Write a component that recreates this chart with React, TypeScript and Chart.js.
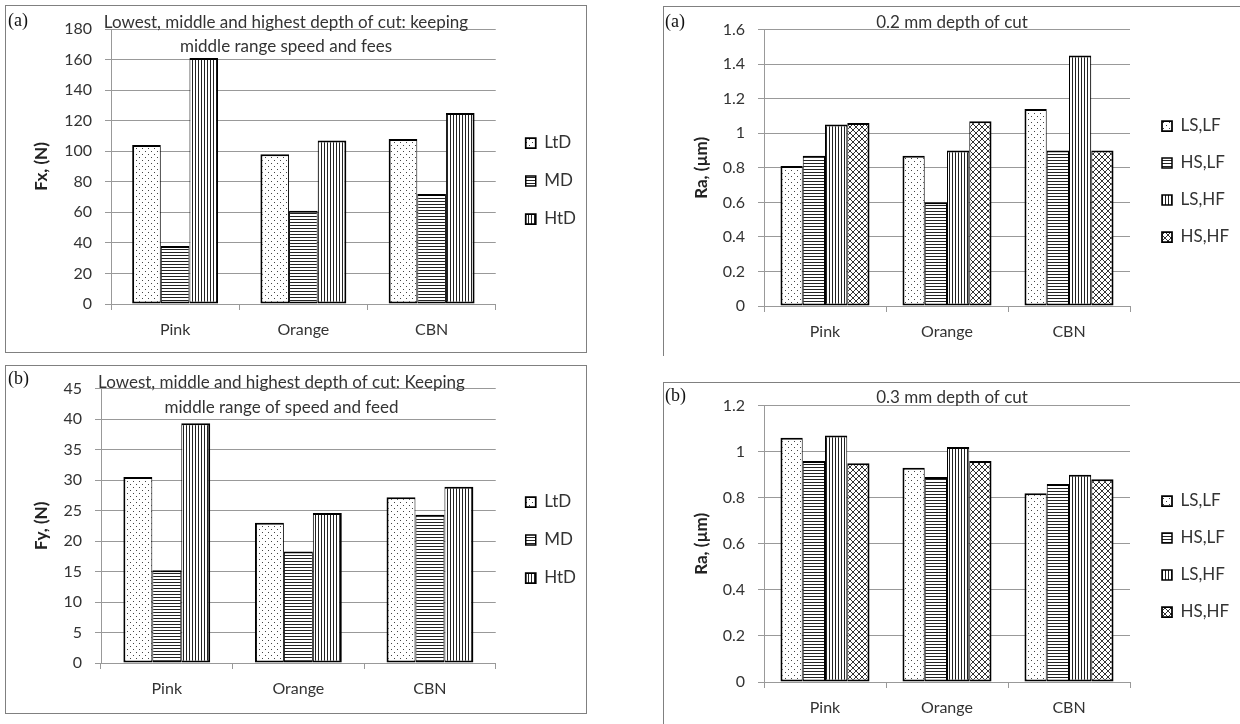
import React, { useEffect, useRef } from 'react';
import { Chart, registerables } from 'chart.js';

Chart.register(...registerables);

const FONT = 'Lato, "Open Sans", sans-serif';
const TEXT = '#333333';
const GRID = '#999999';
const LEGEND_FS = 17;
const TITLE_FS = 17;

// ---------- data ----------
const categories = ['Pink', 'Orange', 'CBN'];

const depthSeries = ['LtD', 'MD', 'HtD'];
const fxLtD = [104, 98, 108];
const fxMD = [38, 61, 72];
const fxHtD = [161, 107, 125];

const fyLtD = [30.5, 23.0, 27.2];
const fyMD = [15.2, 18.3, 24.3];
const fyHtD = [39.3, 24.6, 28.9];

const condSeries = ['LS,LF', 'HS,LF', 'LS,HF', 'HS,HF'];
const ra02LSLF = [0.81, 0.87, 1.14];
const ra02HSLF = [0.87, 0.6, 0.9];
const ra02LSHF = [1.05, 0.9, 1.45];
const ra02HSHF = [1.06, 1.07, 0.9];

const ra03LSLF = [1.06, 0.93, 0.82];
const ra03HSLF = [0.96, 0.89, 0.86];
const ra03LSHF = [1.07, 1.02, 0.9];
const ra03HSHF = [0.95, 0.96, 0.88];

const fxTitle = ['Lowest, middle and highest depth of cut: keeping', 'middle range speed and fees'];
const fyTitle = ['Lowest, middle and highest depth of cut: Keeping', 'middle range of speed and feed'];
const ra02Title = ['0.2 mm depth of cut'];
const ra03Title = ['0.3 mm depth of cut'];

const fxAxis = { max: 180, step: 20, title: 'Fx, (N)' };
const fyAxis = { max: 45, step: 5, title: 'Fy, (N)' };
const ra02Axis = { max: 1.6, step: 0.2, title: 'Ra, (\u00b5m)' };
const ra03Axis = { max: 1.2, step: 0.2, title: 'Ra, (\u00b5m)' };

const depthPatterns = ['dots', 'hlines', 'vlines'];
const condPatterns = ['dots', 'hlines', 'vlines', 'cross'];

// ---------- helpers ----------
function makePattern(kind: string): CanvasPattern | string {
  const c = document.createElement('canvas');
  const ctx = c.getContext('2d');
  if (!ctx) return '#fff';
  if (kind === 'dots') {
    c.width = 6; c.height = 6;
    ctx.fillStyle = '#fff'; ctx.fillRect(0, 0, 6, 6);
    ctx.fillStyle = '#444';
    ctx.fillRect(1, 1, 1, 1); ctx.fillRect(4, 4, 1, 1);
  } else if (kind === 'hlines') {
    c.width = 4; c.height = 3;
    ctx.fillStyle = '#fff'; ctx.fillRect(0, 0, 4, 3);
    ctx.fillStyle = '#222'; ctx.fillRect(0, 0, 4, 1);
  } else if (kind === 'vlines') {
    c.width = 3; c.height = 4;
    ctx.fillStyle = '#fff'; ctx.fillRect(0, 0, 3, 4);
    ctx.fillStyle = '#222'; ctx.fillRect(0, 0, 1, 4);
  } else {
    c.width = 6; c.height = 6;
    ctx.fillStyle = '#fff'; ctx.fillRect(0, 0, 6, 6);
    ctx.fillStyle = '#333';
    for (let i = 0; i < 6; i++) { ctx.fillRect(i, i, 1, 1); ctx.fillRect(5 - i, i, 1, 1); }
  }
  return ctx.createPattern(c, 'repeat') || '#fff';
}

const overlayTitle = {
  id: 'overlayTitle',
  afterDraw(chart: any, _args: any, opts: any) {
    if (!opts || !opts.lines) return;
    const ctx = chart.ctx;
    ctx.save();
    ctx.font = `${opts.size}px ${FONT}`;
    ctx.fillStyle = TEXT;
    ctx.textAlign = 'center';
    ctx.textBaseline = 'middle';
    opts.lines.forEach((l: string, i: number) => ctx.fillText(l, opts.x, opts.y + i * opts.dy));
    ctx.restore();
  },
};

type Geo = {
  w: number; h: number; left: number; right: number; top: number; bottom: number;
  legendX: number; legendGap: number; legendFirst: number; yTitleX: number;
  titleX: number; titleY: number; titleDy: number; catPct: number;
};

function buildConfig(series: string[], data: number[][], patterns: string[], axis: any, titleLines: string[], g: Geo) {
  const n = series.length;
  const pad = g.legendGap - LEGEND_FS;
  const spacer = g.legendX - g.right - pad;
  const legendW = g.w - g.right - spacer;
  const titleH = g.legendFirst - g.top - pad - LEGEND_FS / 2;
  return {
    type: 'bar',
    data: {
      labels: categories,
      datasets: series.map((s, i) => ({
        label: s,
        data: data[i],
        xAxisID: 'x',
        yAxisID: 'y',
        backgroundColor: makePattern(patterns[i]),
        borderColor: '#000',
        borderWidth: { top: 2, bottom: 2, left: i === 0 ? 2 : 1, right: i === n - 1 ? 2 : 1 },
        borderSkipped: false,
        inflateAmount: 0,
        categoryPercentage: g.catPct,
        barPercentage: 1,
      })),
    },
    options: {
      responsive: false,
      animation: false,
      devicePixelRatio: 1,
      events: [],
      layout: { padding: { top: g.top, left: 0, right: 0, bottom: 0 } },
      scales: {
        x: {
          type: 'category',
          offset: true,
          grid: { offset: true, drawOnChartArea: false, drawTicks: true, tickLength: 6, color: GRID },
          border: { display: true, color: GRID, width: 1 },
          ticks: { font: { family: FONT, size: 16 }, color: TEXT, padding: 10, maxRotation: 0, autoSkip: false },
          afterFit: (s: any) => { s.height = g.h - g.bottom; },
        },
        y: {
          type: 'linear',
          min: 0,
          max: axis.max,
          ticks: {
            stepSize: axis.step,
            font: { family: FONT, size: 16 },
            color: TEXT,
            padding: 13,
            callback: (v: any) => String(+(+v).toFixed(2)),
          },
          grid: { color: GRID, tickLength: 6, drawTicks: true },
          border: { display: true, color: GRID, width: 1 },
          title: {
            display: true,
            text: axis.title,
            font: { family: FONT, size: 17, weight: 'bold' },
            color: '#222',
            padding: { top: g.yTitleX - 10.2, bottom: 0 },
          },
          afterFit: (s: any) => { s.width = g.left; },
        },
        spacer: {
          type: 'linear',
          position: 'right',
          display: true,
          grid: { display: false, drawTicks: false },
          border: { display: false },
          ticks: { display: false },
          afterFit: (s: any) => { s.width = spacer; },
        },
      },
      plugins: {
        legend: {
          position: 'right',
          align: 'start',
          maxWidth: legendW,
          title: { display: true, text: ' ', font: { size: 10 }, padding: { top: titleH - 12, bottom: 0 } },
          labels: {
            boxWidth: 10,
            boxHeight: 10,
            padding: pad,
            font: { family: FONT, size: LEGEND_FS },
            color: TEXT,
          },
        },
        tooltip: { enabled: false },
        overlayTitle: { lines: titleLines, x: g.titleX, y: g.titleY, dy: g.titleDy, size: TITLE_FS },
      },
    },
    plugins: [overlayTitle],
  };
}

function ChartCanvas({ make, x, y, w, h }: { make: () => any; x: number; y: number; w: number; h: number }) {
  const ref = useRef<HTMLCanvasElement | null>(null);
  useEffect(() => {
    if (!ref.current) return;
    const chart = new Chart(ref.current, make());
    return () => chart.destroy();
  }, []);
  return (
    <canvas
      ref={ref}
      width={w}
      height={h}
      style={{ position: 'absolute', left: x, top: y, width: w, height: h }}
    />
  );
}

const panelLabel = (text: string, x: number, y: number) => (
  <span
    style={{
      position: 'absolute', left: x, top: y, fontFamily: '"Liberation Serif", "DejaVu Serif", serif',
      fontSize: 18, lineHeight: '18px', color: '#111',
    }}
  >
    {text}
  </span>
);

export default function App() {
  const tlGeo: Geo = { w: 580, h: 346, left: 105, right: 480, top: 23, bottom: 298, legendX: 510, legendGap: 38, legendFirst: 137, yTitleX: 36, titleX: 280, titleY: 16.5, titleDy: 24.5, catPct: 0.67 };
  const blGeo: Geo = { w: 580, h: 346, left: 95, right: 480, top: 22, bottom: 297, legendX: 510, legendGap: 38, legendFirst: 136, yTitleX: 36, titleX: 275.5, titleY: 17, titleDy: 24.5, catPct: 0.66 };
  const trGeo: Geo = { w: 570, h: 348, left: 100, right: 466, top: 21, bottom: 299, legendX: 498, legendGap: 37, legendFirst: 119, yTitleX: 38, titleX: 288, titleY: 15.5, titleDy: 0, catPct: 0.73 };
  const brGeo: Geo = { w: 570, h: 341, left: 100, right: 466, top: 20, bottom: 299, legendX: 498, legendGap: 37, legendFirst: 118, yTitleX: 38, titleX: 288, titleY: 14.5, titleDy: 0, catPct: 0.73 };

  return (
    <div style={{ position: 'fixed', left: 0, top: 0, width: 1240, height: 724, overflow: 'hidden', background: '#fff' }}>
      <div style={{ position: 'absolute', left: 5, top: 5, width: 582, height: 348, boxSizing: 'border-box', border: '1px solid #808080' }} />
      <div style={{ position: 'absolute', left: 5, top: 365, width: 582, height: 349, boxSizing: 'border-box', border: '1px solid #808080' }} />
      <div style={{ position: 'absolute', left: 663, top: 6, width: 700, height: 350, boxSizing: 'border-box', borderLeft: '1px solid #808080', borderTop: '1px solid #808080' }} />
      <div style={{ position: 'absolute', left: 663, top: 382, width: 700, height: 400, boxSizing: 'border-box', borderLeft: '1px solid #808080', borderTop: '1px solid #808080' }} />

      <ChartCanvas x={6} y={6} w={580} h={346} make={() => buildConfig(depthSeries, [fxLtD, fxMD, fxHtD], depthPatterns, fxAxis, fxTitle, tlGeo)} />
      <ChartCanvas x={6} y={366} w={580} h={346} make={() => buildConfig(depthSeries, [fyLtD, fyMD, fyHtD], depthPatterns, fyAxis, fyTitle, blGeo)} />
      <ChartCanvas x={664} y={7} w={570} h={348} make={() => buildConfig(condSeries, [ra02LSLF, ra02HSLF, ra02LSHF, ra02HSHF], condPatterns, ra02Axis, ra02Title, trGeo)} />
      <ChartCanvas x={664} y={383} w={570} h={341} make={() => buildConfig(condSeries, [ra03LSLF, ra03HSLF, ra03LSHF, ra03HSHF], condPatterns, ra03Axis, ra03Title, brGeo)} />

      {panelLabel('(a)', 8, 11)}
      {panelLabel('(b)', 8, 369)}
      {panelLabel('(a)', 665, 12)}
      {panelLabel('(b)', 665, 386)}
    </div>
  );
}
